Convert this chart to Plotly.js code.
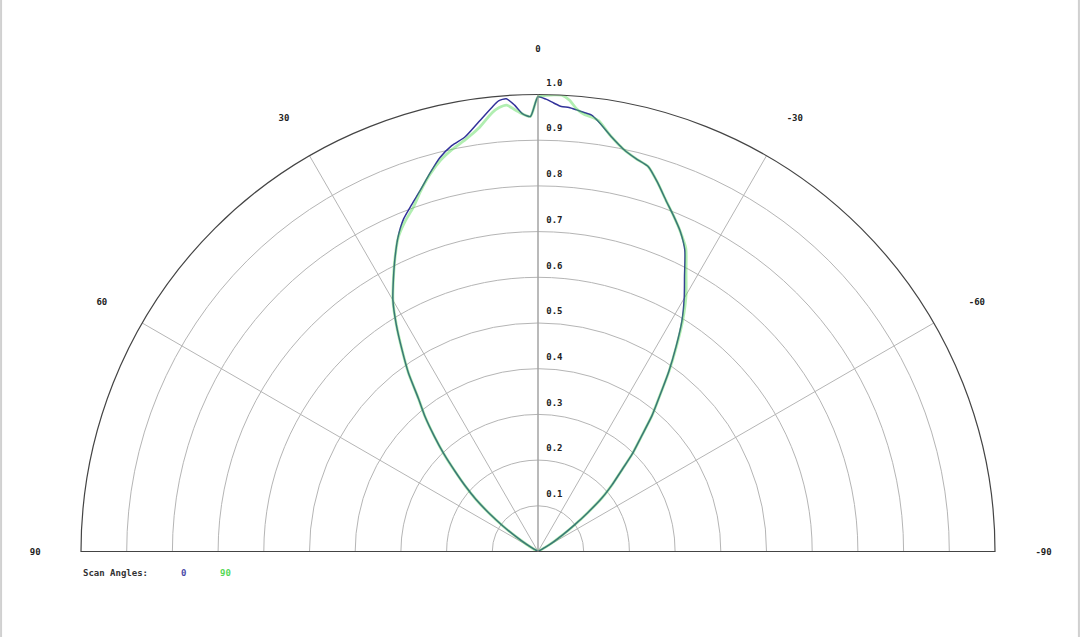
<!DOCTYPE html>
<html>
<head>
<meta charset="utf-8">
<script src="https://cdn.plot.ly/plotly-3.0.1.min.js"></script>
<style>
  html, body { margin: 0; padding: 0; background: #fff; }
  #chart { width: 1080px; height: 637px; }
</style>
</head>
<body>
<div id="chart"></div>
<script>
// ---- data ----
const seriesNames = ["0", "90"];
const seriesColors = ["#32329a", "rgba(70,215,70,0.42)"];
const legendColors = ["#4a4aa8", "#55d855"];
const legendTitle = "Scan Angles:";

const theta = [90, 70, 62, 60, 58, 56, 54, 52, 50, 48, 46, 44, 42, 40, 38, 36, 34, 32, 30, 28, 26, 24, 22, 20, 18, 16, 14, 12, 10, 8, 6, 5, 4, 3, 2, 1, 0,
  -1, -2, -3, -4, -5, -6, -7, -8, -10, -12, -14, -16, -18, -20, -22, -24, -26, -28, -30, -32, -34, -36, -38, -40, -42, -44, -46, -48, -50, -52, -54, -56, -58, -60, -62, -70, -90];

const rScan0 = [0, 0, 0, 0.010, 0.030, 0.058, 0.095, 0.135, 0.177, 0.214, 0.252, 0.296, 0.339, 0.384, 0.425, 0.482, 0.532, 0.585, 0.635, 0.674, 0.714, 0.753, 0.785, 0.808, 0.832, 0.860, 0.888, 0.908, 0.921, 0.947, 0.976, 0.990, 0.993, 0.978, 0.958, 0.952, 0.995,
  0.990, 0.982, 0.975, 0.974, 0.970, 0.966, 0.962, 0.950, 0.922, 0.900, 0.886, 0.876, 0.848, 0.818, 0.792, 0.766, 0.733, 0.683, 0.640, 0.594, 0.540, 0.487, 0.433, 0.388, 0.337, 0.297, 0.252, 0.218, 0.183, 0.138, 0.098, 0.066, 0.040, 0.018, 0, 0, 0];

const rScan90 = [0, 0, 0, 0.010, 0.030, 0.058, 0.095, 0.135, 0.177, 0.214, 0.252, 0.296, 0.339, 0.384, 0.425, 0.482, 0.532, 0.585, 0.635, 0.674, 0.714, 0.752, 0.778, 0.800, 0.830, 0.858, 0.882, 0.900, 0.915, 0.935, 0.965, 0.975, 0.979, 0.968, 0.958, 0.952, 0.995,
  0.998, 1.000, 1.000, 0.990, 0.972, 0.962, 0.958, 0.952, 0.922, 0.900, 0.886, 0.876, 0.848, 0.818, 0.792, 0.766, 0.738, 0.690, 0.648, 0.598, 0.542, 0.488, 0.433, 0.388, 0.337, 0.297, 0.252, 0.218, 0.183, 0.138, 0.098, 0.066, 0.040, 0.018, 0, 0, 0];

const angleTicks = [90, 60, 30, 0, -30, -60, -90];
const angleTickText = ["90", "60", "30", "0", "-30", "-60", "-90"];
const radialTicks = [0.1, 0.2, 0.3, 0.4, 0.5, 0.6, 0.7, 0.8, 0.9, 1.0];
const radialTickText = ["0.1", "0.2", "0.3", "0.4", "0.5", "0.6", "0.7", "0.8", "0.9", "1.0"];

// ---- chart ----
const font = "DejaVu Sans Mono, Liberation Mono, monospace";
const seriesR = [rScan0, rScan90];
const traces = seriesNames.map((name, i) => ({
  type: "scatterpolar",
  mode: "lines",
  name: name,
  theta: theta,
  r: seriesR[i],
  line: { color: seriesColors[i], width: i === 0 ? 1.5 : 2.8, shape: "spline", smoothing: 0.6 },
  hoverinfo: "skip"
}));

const legendX = [183, 225];
const annotations = [{
  xref: "paper", yref: "paper", x: 81 / 1080, y: (637 - 573) / 637,
  xanchor: "left", yanchor: "middle", showarrow: false,
  text: legendTitle, font: { family: font, size: 9, color: "#333", weight: "bold" }
}].concat(seriesNames.map((n, i) => ({
  xref: "paper", yref: "paper", x: legendX[i] / 1080, y: (637 - 573) / 637,
  xanchor: "center", yanchor: "middle", showarrow: false,
  text: n, font: { family: font, size: 9, color: legendColors[i], weight: "bold" }
})));

const layout = {
  width: 1080, height: 637,
  margin: { l: 0, r: 0, t: 0, b: 0 },
  paper_bgcolor: "#fff",
  showlegend: false,
  font: { family: font, size: 9, color: "#333" },
  polar: {
    domain: { x: [81 / 1080, 995 / 1080], y: [85.5 / 637, 542.5 / 637] },
    sector: [0, 180],
    bgcolor: "#fff",
    angularaxis: {
      rotation: 90,
      direction: "counterclockwise",
      tickmode: "array",
      tickvals: angleTicks,
      ticktext: angleTickText,
      showline: true, linecolor: "#444", linewidth: 1.2,
      showgrid: true, gridcolor: "#b5b5b5", gridwidth: 1,
      ticks: "outside", ticklen: 38, tickcolor: "rgba(0,0,0,0)",
      tickfont: { family: font, size: 9, color: "#222", weight: "bold" }
    },
    radialaxis: {
      range: [0, 1],
      angle: 90,
      tickangle: 90,
      tickmode: "array",
      tickvals: radialTicks,
      ticktext: radialTickText.map(t => t + "<br>&nbsp;<br>&nbsp;"),
      showline: true, linecolor: "#9a9a9a", linewidth: 1,
      showgrid: true, gridcolor: "#b5b5b5", gridwidth: 1,
      ticks: "outside", ticklen: 6, tickcolor: "rgba(0,0,0,0)",
      tickfont: { family: font, size: 9, color: "#222", weight: "bold" }
    }
  },
  shapes: [
    { type: "line", xref: "paper", yref: "paper", x0: 0.001, x1: 0.001, y0: 0, y1: 1, line: { color: "#d0d0d0", width: 2 } },
    { type: "line", xref: "paper", yref: "paper", x0: 0.999, x1: 0.999, y0: 0, y1: 1, line: { color: "#d0d0d0", width: 2 } }
  ],
  annotations: annotations
};

Plotly.newPlot("chart", traces, layout, { displayModeBar: false, staticPlot: true });
</script>
</body>
</html>
